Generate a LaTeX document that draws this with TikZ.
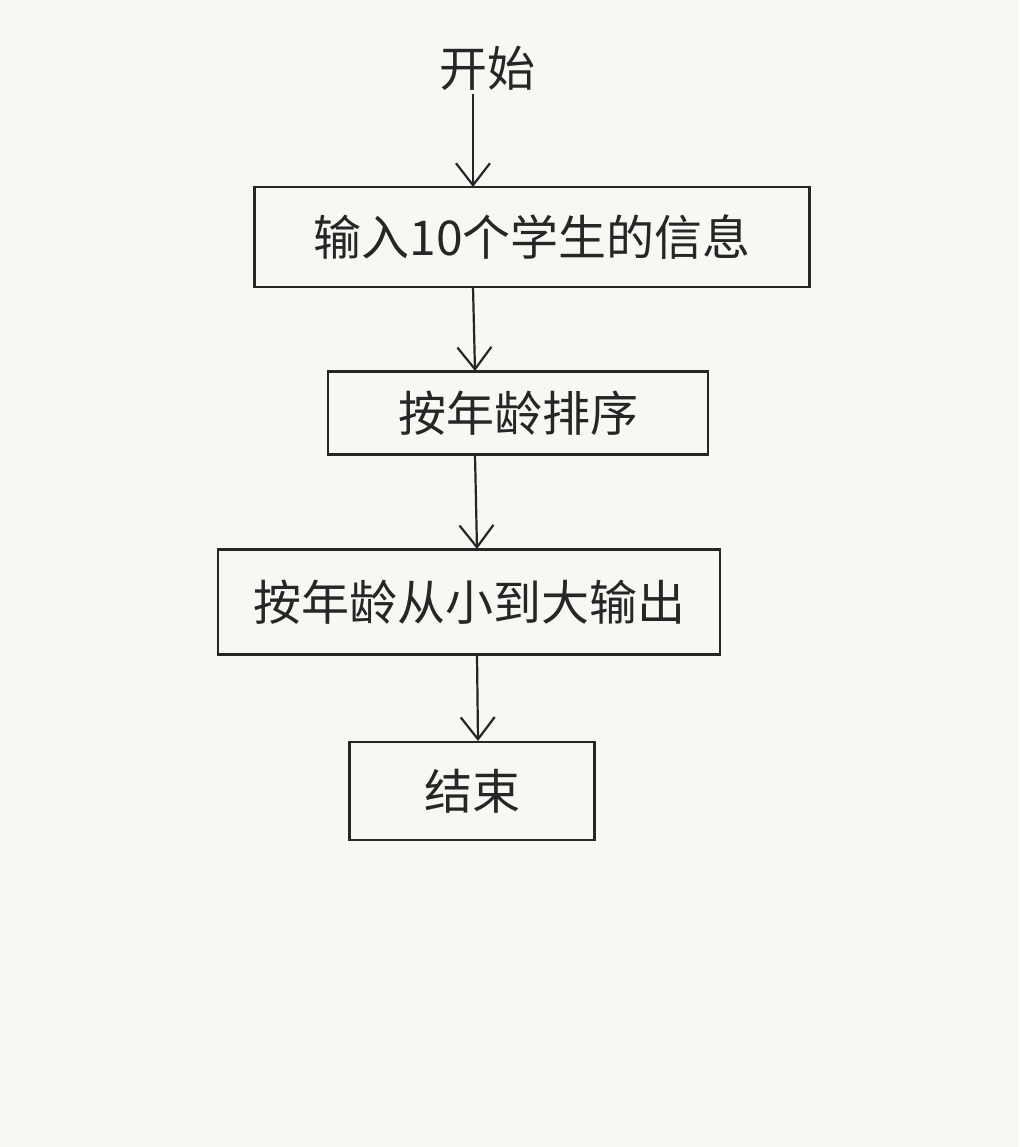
\documentclass[tikz,border=0pt]{standalone}
\usepackage{fontspec}
\setmainfont{Noto Sans CJK SC}
\usetikzlibrary{arrows.meta}
\begin{document}
\begin{tikzpicture}[x=1pt,y=-1pt,
  every node/.style={font=\fontsize{48}{52}\selectfont, text=black!85},
  box/.style={draw=black!85, line width=2.2pt, inner sep=0pt},
  flow/.style={draw=black!85, line width=2.2pt, -{Straight Barb[length=22pt,width=34pt,line width=2.2pt]}}]
\fill[color={rgb,255:red,248;green,247;blue,243}] (0,0) rectangle (1019,1147);
\useasboundingbox (0,0) rectangle (1019,1147);
\node (start) at (487,68) {开始};
\node[box, minimum width=555pt, minimum height=100pt] (input) at (532,237) {输入10个学生的信息};
\node[box, minimum width=380pt, minimum height=83pt] (sort) at (518,413) {按年龄排序};
\node[box, minimum width=502pt, minimum height=105pt] (output) at (469,602) {按年龄从小到大输出};
\node[box, minimum width=245pt, minimum height=98pt] (end) at (472,791) {结束};
\draw[flow] (start.south -| 473,0) -- (473,187);
\draw[flow] (473,287) -- (475,371);
\draw[flow] (475,455) -- (477,549);
\draw[flow] (477,655) -- (478,741);
\end{tikzpicture}
\end{document}
